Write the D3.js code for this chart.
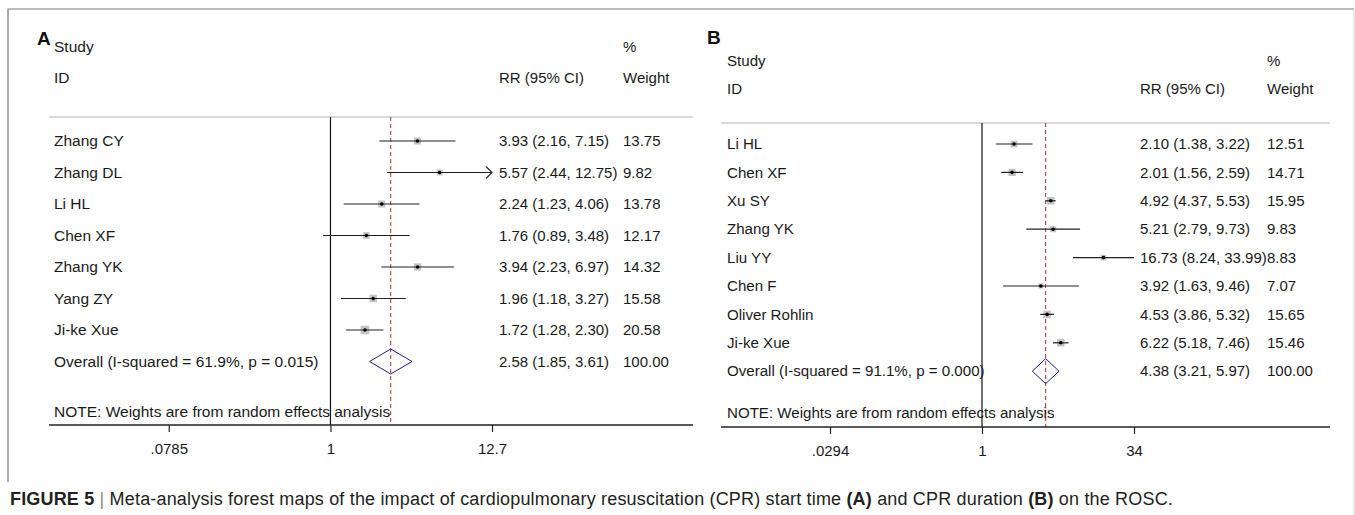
<!DOCTYPE html>
<html>
<head>
<meta charset="utf-8">
<script src="https://cdn.jsdelivr.net/npm/d3@7"></script>
<style>
  html, body { margin: 0; padding: 0; background: #fff; }
  svg { display: block; font-family: "Liberation Sans", Arial, sans-serif; }
</style>
</head>
<body>
<svg id="chart" width="1355" height="515"></svg>
<script>
// panel A: CPR start time
const studiesA = ["Zhang CY", "Zhang DL", "Li HL", "Chen XF", "Zhang YK", "Yang ZY", "Ji-ke Xue"];
const rrA     = [3.93, 5.57, 2.24, 1.76, 3.94, 1.96, 1.72];
const lowA    = [2.16, 2.44, 1.23, 0.89, 2.23, 1.18, 1.28];
const highA   = [7.15, 12.75, 4.06, 3.48, 6.97, 3.27, 2.30];
const weightA = [13.75, 9.82, 13.78, 12.17, 14.32, 15.58, 20.58];
const overallA = [2.58, 1.85, 3.61];
const overallLabelA = "Overall  (I-squared = 61.9%, p = 0.015)";
const ticksA = [0.0785, 1, 12.7];
const tickLabelsA = [".0785", "1", "12.7"];

// panel B: CPR duration
const studiesB = ["Li HL", "Chen XF", "Xu SY", "Zhang YK", "Liu YY", "Chen F", "Oliver Rohlin", "Ji-ke Xue"];
const rrB     = [2.10, 2.01, 4.92, 5.21, 16.73, 3.92, 4.53, 6.22];
const lowB    = [1.38, 1.56, 4.37, 2.79, 8.24, 1.63, 3.86, 5.18];
const highB   = [3.22, 2.59, 5.53, 9.73, 33.99, 9.46, 5.32, 7.46];
const weightB = [12.51, 14.71, 15.95, 9.83, 8.83, 7.07, 15.65, 15.46];
const overallB = [4.38, 3.21, 5.97];
const overallLabelB = "Overall  (I-squared = 91.1%, p = 0.000)";
const ticksB = [0.0294, 1, 34];
const tickLabelsB = [".0294", "1", "34"];

const svg = d3.select("#chart");
const f2 = d3.format(".2f");
const FS = 15; // numbers / right columns

// frame around the figure (bottom edge cropped off)
svg.append("path")
  .attr("d", "M8,482 L8,9 L1354,9")
  .attr("fill", "none").attr("stroke", "#7a7a7a").attr("stroke-width", 1.2);
svg.append("line")
  .attr("x1", 1354).attr("x2", 1354).attr("y1", 9).attr("y2", 515)
  .attr("stroke", "#d8d8d8");

function drawPanel(p) {
  const g = svg.append("g");
  const x = d3.scaleLog().domain(d3.extent(p.ticks)).range(p.range);
  const [xmin, xmax] = x.domain();
  const y = i => p.row0 + i * p.step;
  const n = p.studies.length;

  const txt = (tx, ty, s, fs) => g.append("text")
    .attr("x", tx).attr("y", ty).attr("dy", "0.35em")
    .attr("font-size", fs || FS).attr("fill", "#1a1a1a").text(s);

  // headers
  g.append("text").attr("x", p.letterX).attr("y", p.letterY).attr("dy", "0.35em")
    .attr("font-size", 19).attr("font-weight", "bold").attr("fill", "#111").text(p.letter);
  txt(p.labelX, p.studyY, "Study", p.fsLab);
  txt(p.pctX, p.studyY, "%");
  txt(p.labelX, p.idY, "ID", p.fsLab);
  txt(p.estX, p.idY, "RR (95% CI)");
  txt(p.pctX, p.idY, "Weight");

  g.append("line").attr("x1", p.left).attr("x2", p.right)
    .attr("y1", p.sepY).attr("y2", p.sepY)
    .attr("stroke", "#b5b5b5").attr("stroke-width", 1);

  // null line and pooled estimate line
  g.append("line").attr("x1", x(1)).attr("x2", x(1))
    .attr("y1", p.sepY).attr("y2", p.axisY)
    .attr("stroke", "#111").attr("stroke-width", 1.2);
  g.append("line").attr("x1", x(p.overall[0])).attr("x2", x(p.overall[0]))
    .attr("y1", p.sepY).attr("y2", p.axisY)
    .attr("stroke", "#b03030").attr("stroke-width", 1).attr("stroke-dasharray", "4,3");

  // study rows
  for (let i = 0; i < n; i++) {
    const cy = y(i);
    const lo = Math.max(p.low[i], xmin), hi = Math.min(p.high[i], xmax);
    const side = 1.9 * Math.sqrt(p.weight[i]);
    g.append("rect")
      .attr("x", x(p.rr[i]) - side / 2).attr("y", cy - side / 2)
      .attr("width", side).attr("height", side)
      .attr("fill", "#c4c4c4");
    g.append("line").attr("x1", x(lo)).attr("x2", x(hi))
      .attr("y1", cy).attr("y2", cy)
      .attr("stroke", "#222").attr("stroke-width", 1.2);
    if (p.high[i] > xmax) {
      const ax = x(xmax);
      g.append("path").attr("d", `M${ax - 6},${cy - 6} L${ax},${cy} L${ax - 6},${cy + 6}`)
        .attr("fill", "none").attr("stroke", "#222").attr("stroke-width", 1.1);
    }
    g.append("circle").attr("cx", x(p.rr[i])).attr("cy", cy).attr("r", 1.8).attr("fill", "#000");

    txt(p.labelX, cy, p.studies[i], p.fsLab);
    txt(p.estX, cy, `${f2(p.rr[i])} (${f2(p.low[i])}, ${f2(p.high[i])})`);
    txt(p.wtX, cy, f2(p.weight[i]));
  }

  // overall diamond
  const oy = y(n);
  const [orr, olo, ohi] = p.overall;
  g.append("path")
    .attr("d", `M${x(olo)},${oy} L${x(orr)},${oy - 12.5} L${x(ohi)},${oy} L${x(orr)},${oy + 12.5} Z`)
    .attr("fill", "none").attr("stroke", "#1c1c8a").attr("stroke-width", 1);
  txt(p.labelX, oy, p.overallLabel, p.fsLab);
  txt(p.estX, oy, `${f2(orr)} (${f2(olo)}, ${f2(ohi)})`);
  txt(p.wtX, oy, "100.00");

  txt(p.labelX, p.noteY, "NOTE: Weights are from random effects analysis", p.fsLab);

  // axis
  g.append("line").attr("x1", p.left).attr("x2", p.right)
    .attr("y1", p.axisY).attr("y2", p.axisY)
    .attr("stroke", "#222").attr("stroke-width", 1.5);
  const axis = g.append("g").attr("transform", `translate(0,${p.axisY})`)
    .call(d3.axisBottom(x).tickValues(p.ticks)
      .tickFormat((d, i) => p.tickLabels[i]).tickSize(7).tickPadding(11));
  axis.select(".domain").remove();
  axis.selectAll(".tick line").attr("stroke", "#222").attr("stroke-width", 1.2);
  axis.selectAll(".tick text").attr("font-size", FS).attr("fill", "#1a1a1a")
    .attr("font-family", "Liberation Sans, Arial, sans-serif");
}

drawPanel({
  letter: "A", studies: studiesA, rr: rrA, low: lowA, high: highA, weight: weightA,
  overall: overallA, overallLabel: overallLabelA, ticks: ticksA, tickLabels: tickLabelsA,
  range: [168.75, 492], left: 49, right: 693, fsLab: 15.5,
  letterX: 37, letterY: 38, labelX: 54, estX: 499, wtX: 623, pctX: 623,
  studyY: 47, idY: 78, sepY: 117, row0: 141, step: 31.5, noteY: 412, axisY: 425
});

drawPanel({
  letter: "B", studies: studiesB, rr: rrB, low: lowB, high: highB, weight: weightB,
  overall: overallB, overallLabel: overallLabelB, ticks: ticksB, tickLabels: tickLabelsB,
  range: [830, 1134], left: 721, right: 1330, fsLab: 15.1,
  letterX: 707, letterY: 37, labelX: 727, estX: 1140, wtX: 1267, pctX: 1267,
  studyY: 61, idY: 89, sepY: 123, row0: 144, step: 28.4, noteY: 413, axisY: 427
});

// caption
const capX = 10, capEnd = 1173;
const cap = svg.append("text").attr("x", capX).attr("y", 499).attr("dy", "0.35em")
  .attr("font-size", 18).attr("fill", "#231f20");
cap.append("tspan").attr("font-weight", "bold").text("FIGURE 5");
cap.append("tspan").attr("fill", "#888").text(" | ");
cap.append("tspan").text("Meta-analysis forest maps of the impact of cardiopulmonary resuscitation (CPR) start time ");
cap.append("tspan").attr("font-weight", "bold").text("(A)");
cap.append("tspan").text(" and CPR duration ");
cap.append("tspan").attr("font-weight", "bold").text("(B)");
cap.append("tspan").text(" on the ROSC.");
const capW = cap.node().getComputedTextLength();
const nChars = cap.text().length;
cap.attr("letter-spacing", (capEnd - capX - capW) / nChars);
</script>
</body>
</html>
